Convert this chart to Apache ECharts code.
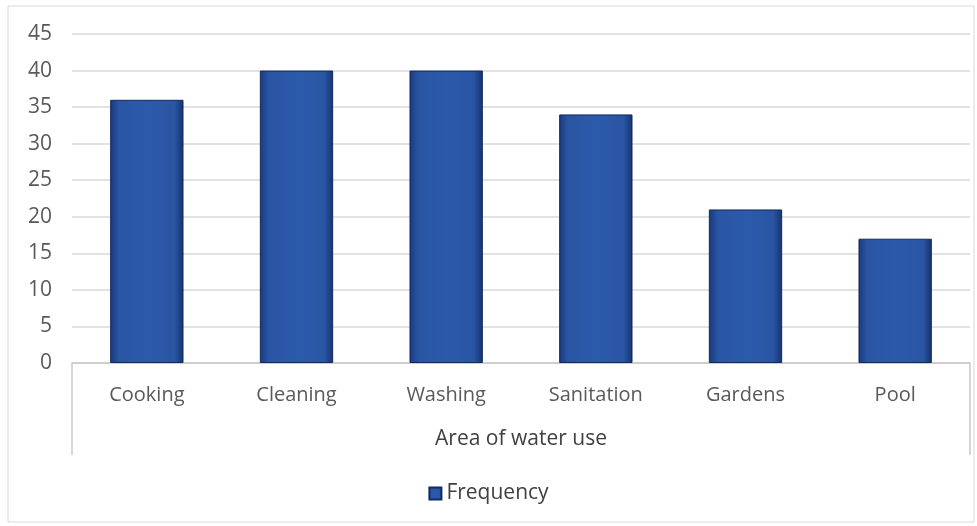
<!DOCTYPE html>
<html>
<head>
<meta charset="utf-8">
<script src="https://cdn.jsdelivr.net/npm/echarts@6/dist/echarts.min.js"></script>
<style>
  html, body { margin: 0; padding: 0; background: #fff; }
  #chart { width: 977px; height: 526px; }
</style>
</head>
<body>
<div id="chart"></div>
<script>
// data
const categories = ['Cooking', 'Cleaning', 'Washing', 'Sanitation', 'Gardens', 'Pool']
const frequency = [36, 40, 40, 34, 21, 17]
const seriesName = 'Frequency'
const axisName = 'Area of water use'

const W = 977, H = 526
const gridLeft = 72, gridRight = 7, gridTop = 34, gridBottom = 163
const font = 'Open Sans'

const barColor = new echarts.graphic.LinearGradient(0, 0, 1, 0, [
  { offset: 0, color: '#1a397c' },
  { offset: 0.12, color: '#2955a3' },
  { offset: 0.5, color: '#2c5aab' },
  { offset: 0.88, color: '#2955a3' },
  { offset: 1, color: '#16326d' }
])

let chart = echarts.init(document.getElementById('chart'))
let option = {
  animation: false,
  textStyle: { fontFamily: font },
  grid: { left: gridLeft, right: gridRight, top: gridTop, bottom: gridBottom },
  legend: {
    bottom: 17,
    left: 'center',
    icon: 'rect',
    itemWidth: 12,
    itemHeight: 12,
    itemGap: 6,
    textStyle: { fontSize: 21, color: '#404040', fontFamily: font },
    data: [seriesName]
  },
  xAxis: {
    type: 'category',
    data: categories,
    name: axisName,
    nameLocation: 'middle',
    nameGap: 66,
    nameTextStyle: { fontSize: 21, color: '#404040' },
    axisLine: { lineStyle: { color: '#c8c8c8', width: 1.5 } },
    axisTick: { show: false },
    axisLabel: { fontSize: 20, color: '#595959', margin: 22 }
  },
  yAxis: {
    type: 'value',
    min: 0,
    max: 45,
    interval: 5,
    axisLine: { show: false },
    axisTick: { show: false },
    axisLabel: { fontSize: 21, color: '#595959', margin: 20 },
    splitLine: { lineStyle: { color: '#d9d9d9', width: 1.5 } }
  },
  series: [{
    name: seriesName,
    type: 'bar',
    data: frequency,
    barWidth: '49%',
    itemStyle: {
      color: barColor,
      borderColor: '#122a5e',
      borderWidth: 1
    }
  }],
  graphic: [
    {
      type: 'rect',
      shape: { x: 8, y: 6, width: W - 11, height: H - 10 },
      style: { fill: 'none', stroke: '#d9d9d9', lineWidth: 1 },
      silent: true
    },
    {
      type: 'line',
      shape: { x1: gridLeft, y1: H - gridBottom, x2: gridLeft, y2: H - gridBottom + 92 },
      style: { stroke: '#c8c8c8', lineWidth: 1.5 },
      silent: true
    },
    {
      type: 'line',
      shape: { x1: W - gridRight, y1: H - gridBottom, x2: W - gridRight, y2: H - gridBottom + 92 },
      style: { stroke: '#c8c8c8', lineWidth: 1.5 },
      silent: true
    }
  ]
}
option && chart.setOption(option)
</script>
</body>
</html>
